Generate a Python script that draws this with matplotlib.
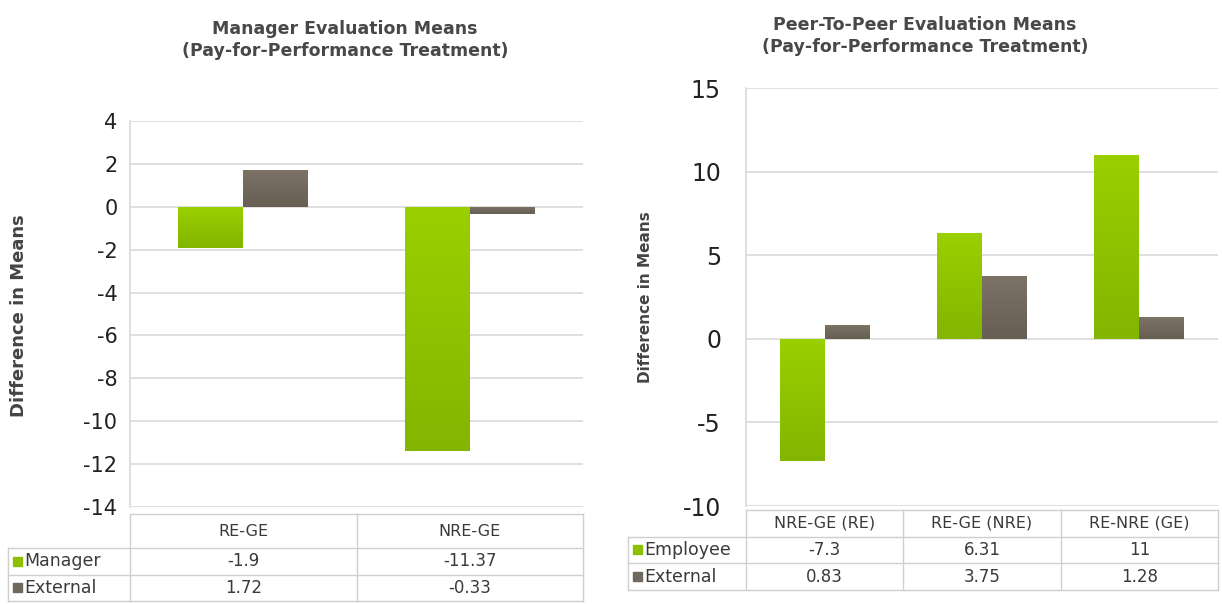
import numpy as np
import matplotlib
matplotlib.use("Agg")
import matplotlib.pyplot as plt
from matplotlib.colors import LinearSegmentedColormap

# Manager evaluation means
mgr_cats = ["RE-GE", "NRE-GE"]
mgr_series = ["Manager", "External"]
mgr_manager = [-1.9, -11.37]
mgr_external = [1.72, -0.33]
mgr_ticks = [4, 2, 0, -2, -4, -6, -8, -10, -12, -14]

# Peer-to-peer evaluation means
peer_cats = ["NRE-GE (RE)", "RE-GE (NRE)", "RE-NRE (GE)"]
peer_series = ["Employee", "External"]
peer_employee = [-7.3, 6.31, 11]
peer_external = [0.83, 3.75, 1.28]
peer_ticks = [15, 10, 5, 0, -5, -10]

GREEN = "#8cc000"
GRAY = "#70675d"
GRID = "#d9d9d9"
TXT = "#3a3a3a"

green_cm = LinearSegmentedColormap.from_list("g", ["#9acf00", "#82b600"])
gray_cm = LinearSegmentedColormap.from_list("k", ["#7c7266", "#675e54"])

plt.rcParams["font.family"] = ["DejaVu Sans"]

W, H = 1222, 604
fig = plt.figure(figsize=(W / 100, H / 100), dpi=100)


def px_axes(x0, y0, x1, y1):
    # pixel box (top-left origin) -> figure axes
    return fig.add_axes([x0 / W, 1 - y1 / H, (x1 - x0) / W, (y1 - y0) / H])


def shade(ax, bars, cmap):
    # vertical gradient inside each bar, light at the zero line
    grad = np.linspace(0, 1, 64).reshape(-1, 1)
    for b in bars:
        x, y = b.get_x(), b.get_y()
        w, h = b.get_width(), b.get_height()
        top, bot = (y + h, y) if h >= 0 else (y, y + h)
        im = ax.imshow(grad, cmap=cmap, aspect="auto", zorder=3,
                       extent=(x, x + w, bot, top), origin="upper")
        im.set_clip_path(b)


def bar_panel(ax, cats, vals_a, vals_b, ticks):
    n = len(cats)
    x = np.arange(n)
    w = 0.286
    ba = ax.bar(x - w / 2, vals_a, w, color=GREEN, zorder=3)
    bb = ax.bar(x + w / 2, vals_b, w, color=GRAY, zorder=3)
    shade(ax, ba, green_cm)
    shade(ax, bb, gray_cm)
    ax.set_xlim(-0.5, n - 0.5)
    ax.set_ylim(min(ticks), max(ticks))
    ax.set_yticks(ticks)
    ax.set_yticklabels([str(t) for t in ticks], color="#222222")
    ax.set_xticks([])
    ax.yaxis.grid(True, color=GRID, linewidth=1.2, zorder=0)
    for s in ["top", "right", "bottom"]:
        ax.spines[s].set_visible(False)
    ax.spines["left"].set_color(GRID)
    ax.spines["left"].set_linewidth(1.2)
    ax.tick_params(axis="y", length=0)


def data_table(ov, ax_box, label_left, rows_y, cats, series, values, colors):
    x0, x1 = ax_box
    n = len(cats)
    cw = (x1 - x0) / n
    top, r1, r2, bot = rows_y
    lc = "#cfcfcf"
    # horizontal rules
    ov.plot([x0, x1], [top, top], color=lc, lw=1)
    for y in (r1, r2, bot):
        ov.plot([label_left, x1], [y, y], color=lc, lw=1)
    # vertical rules
    ov.plot([label_left, label_left], [r1, bot], color=lc, lw=1)
    for k in range(n + 1):
        ov.plot([x0 + k * cw, x0 + k * cw], [top, bot], color=lc, lw=1)
    for k, c in enumerate(cats):
        ov.text(x0 + (k + 0.5) * cw, (top + r1) / 2, c, ha="center",
                va="center", fontsize=11.5, color=TXT)
    ys = [(r1 + r2) / 2, (r2 + bot) / 2]
    for name, vals, col, y in zip(series, values, colors, ys):
        ov.add_patch(plt.Rectangle((label_left + 5, y - 5), 9, 9, color=col))
        ov.text(label_left + 16, y, name, ha="left", va="center",
                fontsize=12.5, color=TXT)
        for k, v in enumerate(vals):
            ov.text(x0 + (k + 0.5) * cw, y, f"{v:g}", ha="center",
                    va="center", fontsize=12, color=TXT)


# left panel
ax1 = px_axes(130, 121, 583, 507)
bar_panel(ax1, mgr_cats, mgr_manager, mgr_external, mgr_ticks)
ax1.tick_params(axis="y", pad=9, labelsize=15)

# right panel
ax2 = px_axes(746, 88, 1218, 506)
bar_panel(ax2, peer_cats, peer_employee, peer_external, peer_ticks)
ax2.tick_params(axis="y", pad=18, labelsize=17)

ov = fig.add_axes([0, 0, 1, 1], zorder=-1)
ov.set_xlim(0, W)
ov.set_ylim(H, 0)
ov.axis("off")

fig.text(345 / W, 1 - 40 / H,
         "Manager Evaluation Means\n(Pay-for-Performance Treatment)",
         ha="center", va="center", fontsize=12.5, fontweight="bold",
         color="#484848", linespacing=1.3)
fig.text(925 / W, 1 - 36 / H,
         "Peer-To-Peer Evaluation Means\n(Pay-for-Performance Treatment)",
         ha="center", va="center", fontsize=12.5, fontweight="bold",
         color="#484848", linespacing=1.3)

fig.text(19 / W, 1 - 316 / H, "Difference in Means", rotation=90,
         ha="center", va="center", fontsize=13, fontweight="bold",
         color="#444444")
fig.text(645 / W, 1 - 297 / H, "Difference in Means", rotation=90,
         ha="center", va="center", fontsize=11, fontweight="bold",
         color="#444444")

data_table(ov, (130, 583), 8, (514, 548, 575, 601), mgr_cats, mgr_series,
           [mgr_manager, mgr_external], [GREEN, GRAY])
data_table(ov, (746, 1218), 628, (510, 537, 563, 590), peer_cats,
           peer_series, [peer_employee, peer_external], [GREEN, GRAY])

fig.savefig("out.png", dpi=100)
